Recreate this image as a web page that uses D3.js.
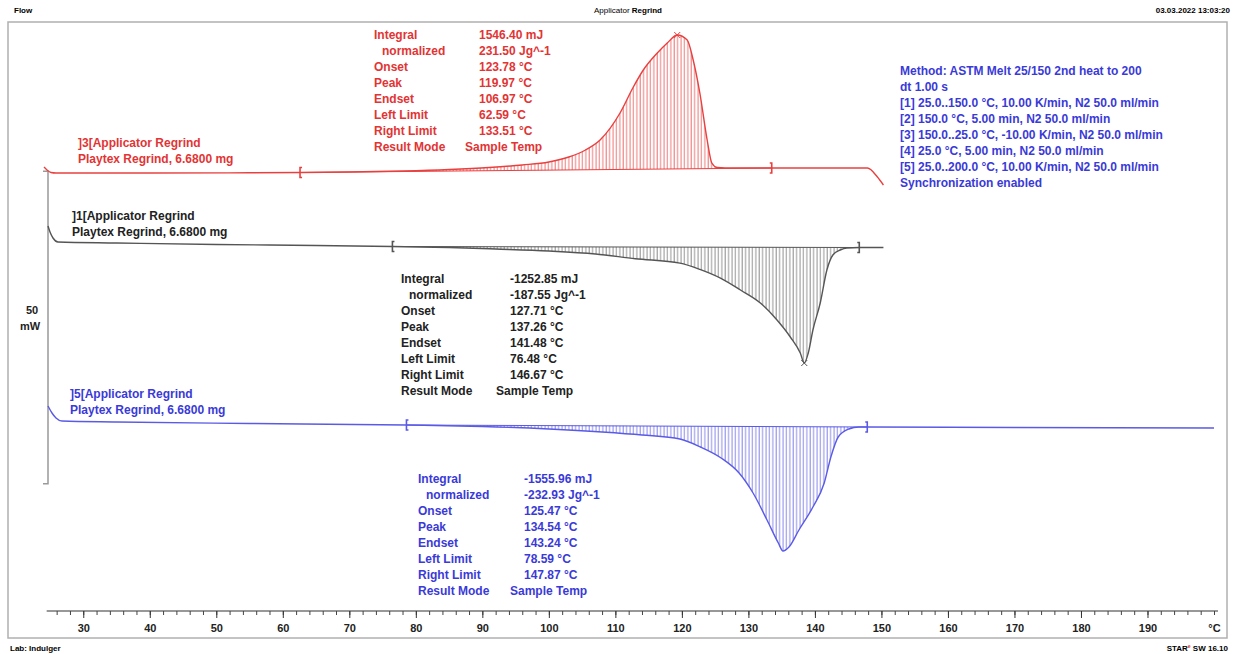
<!DOCTYPE html>
<html>
<head>
<meta charset="utf-8">
<script src="https://cdn.jsdelivr.net/npm/d3@7"></script>
<style>
  body { margin: 0; background: #fff; }
  text { font-family: "Liberation Sans", Arial, sans-serif; }
</style>
</head>
<body>
<div id="dsc_viz"></div>
<script>
// DSC curves, temperature (°C) vs heat flow (mW, curves shifted for display)
var redTemp = [24.1, 24.55, 25.15, 25.9, 40, 55, 62.59, 70, 78, 85, 91, 96, 100, 103, 105.5, 107.7, 110.7, 112.7, 114.2, 116.3, 117.8, 119.3, 120.8, 121.7, 122.7, 123.8, 124.5, 125.3, 126.5, 133.51, 147.9, 149.4, 150.3];
var redFlow = [75.68, 75.2, 74.8, 74.72, 74.72, 74.75, 74.8, 74.88, 75.04, 75.28, 75.6, 76.0, 76.48, 77.28, 78.4, 80.0, 84.32, 88.48, 91.2, 93.92, 95.52, 96.8, 96.0, 92.8, 87.52, 80.0, 76.32, 75.6, 75.52, 75.52, 75.52, 74.08, 72.8];

var blackTemp = [24.7, 25.0, 25.45, 26.2, 35, 50, 65, 76.48, 85, 92, 100, 107, 113, 119.7, 122.7, 125.8, 128.8, 131.8, 134.3, 136.3, 137.8, 138.4, 139.0, 139.7, 140.8, 141.8, 142.7, 143.8, 144.8, 146.67, 150.3];
var blackFlow = [66.24, 65.28, 64.32, 63.68, 63.52, 63.28, 63.12, 62.96, 62.8, 62.56, 62.24, 61.76, 61.0, 60.3, 59.3, 57.9, 56.0, 53.92, 51.2, 48.48, 45.92, 44.32, 45.92, 49.6, 53.92, 59.2, 61.6, 62.4, 62.72, 62.8, 62.8];

var blueTemp = [24.7, 25.3, 25.9, 26.8, 35, 55, 78.59, 90, 100, 108, 114, 119.7, 122.8, 125.9, 128.6, 130.7, 132.8, 134.5, 135.2, 136.1, 137.6, 139.7, 141.4, 142.4, 143.5, 145.1, 146.6, 147.87, 170, 200];
var blueFlow = [37.44, 36.32, 35.52, 35.04, 34.88, 34.64, 34.4, 34.16, 33.76, 33.28, 32.8, 32.16, 30.88, 29.12, 26.72, 23.52, 19.2, 15.52, 14.24, 14.88, 17.6, 21.28, 25.12, 29.28, 32.48, 33.76, 34.08, 34.08, 34.0, 33.92];

// integration limits and peak temperatures (as drawn)
var redLimits = [62.59, 133.51];
var blackLimits = [76.48, 146.67];
var blueLimits = [78.59, 147.87];
var redPeak = 119.3, blackPeak = 138.4;

// tick values
var majorTicks = [30, 40, 50, 60, 70, 80, 90, 100, 110, 120, 130, 140, 150, 160, 170, 180, 190, 200];
var minorTicks = d3.range(26, 201, 2);

// evaluation texts
var resultLabels = ["Integral", "normalized", "Onset", "Peak", "Endset", "Left Limit", "Right Limit", "Result Mode"];
var redResults = ["1546.40 mJ", "231.50 Jg^-1", "123.78 °C", "119.97 °C", "106.97 °C", "62.59 °C", "133.51 °C", "Sample Temp"];
var blackResults = ["-1252.85 mJ", "-187.55 Jg^-1", "127.71 °C", "137.26 °C", "141.48 °C", "76.48 °C", "146.67 °C", "Sample Temp"];
var blueResults = ["-1555.96 mJ", "-232.93 Jg^-1", "125.47 °C", "134.54 °C", "143.24 °C", "78.59 °C", "147.87 °C", "Sample Temp"];
var methodLines = ["Method: ASTM Melt 25/150 2nd heat to 200", "dt 1.00 s",
  "[1] 25.0..150.0 °C, 10.00 K/min, N2 50.0 ml/min",
  "[2] 150.0 °C, 5.00 min, N2 50.0 ml/min",
  "[3] 150.0..25.0 °C, -10.00 K/min, N2 50.0 ml/min",
  "[4] 25.0 °C, 5.00 min, N2 50.0 ml/min",
  "[5] 25.0..200.0 °C, 10.00 K/min, N2 50.0 ml/min",
  "Synchronization enabled"];
var curveNames = ["]3[Applicator Regrind", "]1[Applicator Regrind", "]5[Applicator Regrind"];
var sampleName = "Playtex Regrind, 6.6800 mg";

var red = "#e8403f", redText = "#e23434";
var black = "#555", blackText = "#222";
var blue = "#5a5ae6", blueText = "#3a3ad8";

var width = 1235, height = 654;

var svg = d3.select("#dsc_viz")
  .append("svg")
    .attr("width", width)
    .attr("height", height);

svg.append("rect").attr("width", width).attr("height", height).attr("fill", "#fff");

// frame
svg.append("rect")
  .attr("x", 8).attr("y", 22)
  .attr("width", 1219).attr("height", 616)
  .attr("fill", "none")
  .attr("stroke", "#b0b0b0")
  .attr("stroke-width", 1.5);

// header / footer
svg.append("text").attr("x", 14).attr("y", 13).style("font-size", "8px").style("font-weight", "bold").text("Flow");
var title = svg.append("text").attr("x", 628).attr("y", 13).attr("text-anchor", "middle").style("font-size", "8px");
title.append("tspan").text("Applicator ");
title.append("tspan").style("font-weight", "bold").text("Regrind");
svg.append("text").attr("x", 1230).attr("y", 13).attr("text-anchor", "end").style("font-size", "8px").style("font-weight", "bold").text("03.03.2022 13:03:20");
svg.append("text").attr("x", 10).attr("y", 651).style("font-size", "8px").style("font-weight", "bold").text("Lab: Indulger");
var star = svg.append("text").attr("x", 1228).attr("y", 651).attr("text-anchor", "end").style("font-size", "8px").style("font-weight", "bold");
star.append("tspan").text("STAR");
star.append("tspan").attr("dy", -3).style("font-size", "5px").attr("fill", "#c33").text("e");
star.append("tspan").attr("dy", 3).text(" SW 16.10");

// scales
var x = d3.scaleLinear().domain([25, 200]).range([50, 1214]);
var y = d3.scaleLinear().domain([0, 100]).range([640, 15]);

// x axis
var axisY = 611;
svg.append("line")
  .attr("x1", x(24.5)).attr("x2", x(200.6))
  .attr("y1", axisY).attr("y2", axisY)
  .attr("stroke", "#333").attr("stroke-width", 1.2);

svg.append("g")
  .attr("transform", "translate(0," + axisY + ")")
  .call(d3.axisBottom(x).tickValues(minorTicks).tickSize(4).tickFormat(""))
  .call(function(g) { g.select(".domain").remove(); })
  .selectAll("line").attr("stroke", "#444");

var xAxis = svg.append("g")
  .attr("transform", "translate(0," + axisY + ")")
  .call(d3.axisBottom(x).tickValues(majorTicks).tickSize(7).tickPadding(6)
    .tickFormat(function(d) { return d === 200 ? "°C" : d; }));
xAxis.select(".domain").remove();
xAxis.selectAll("line").attr("stroke", "#333");
xAxis.selectAll("text")
  .style("font-family", "'Liberation Sans', Arial, sans-serif")
  .style("font-size", "11px")
  .style("font-weight", "bold")
  .attr("fill", "#222");
xAxis.selectAll(".tick").filter(function(d) { return d === 200; }).select("line").remove();

// 50 mW scale bar
var barTop = y(75), barBottom = y(25);
svg.append("path")
  .attr("d", "M43," + barTop + "H48V" + barBottom + "H43")
  .attr("fill", "none").attr("stroke", "#999").attr("stroke-width", 1.5);
svg.append("text").attr("x", 32).attr("y", 314).attr("text-anchor", "middle").style("font-size", "11px").style("font-weight", "bold").attr("fill", "#222").text("50");
svg.append("text").attr("x", 30).attr("y", 330).attr("text-anchor", "middle").style("font-size", "11px").style("font-weight", "bold").attr("fill", "#222").text("mW");

// hatch patterns
var defs = svg.append("defs");
function hatch(id, color) {
  var p = defs.append("pattern")
    .attr("id", id)
    .attr("patternUnits", "userSpaceOnUse")
    .attr("width", 3.4).attr("height", 10);
  p.append("line")
    .attr("x1", 1).attr("x2", 1).attr("y1", 0).attr("y2", 10)
    .attr("stroke", color).attr("stroke-width", 0.9).attr("opacity", 0.8);
}
hatch("hatchRed", red);
hatch("hatchBlack", "#666");
hatch("hatchBlue", blue);

var line = d3.line()
  .x(function(d) { return x(d[0]); })
  .y(function(d) { return y(d[1]); })
  .curve(d3.curveMonotoneX);

function drawCurve(temps, flows, limits, color, patternId, peakT) {
  var pts = temps.map(function(t, i) { return [t, flows[i]]; });
  var left = pts.find(function(d) { return d[0] === limits[0]; });
  var right = pts.find(function(d) { return d[0] === limits[1]; });
  var base = d3.scaleLinear().domain([left[0], right[0]]).range([left[1], right[1]]);
  var inside = pts.filter(function(d) { return d[0] >= limits[0] && d[0] <= limits[1]; });

  // integrated area
  svg.append("path")
    .datum(inside)
    .attr("fill", "url(#" + patternId + ")")
    .attr("d", d3.area()
      .x(function(d) { return x(d[0]); })
      .y0(function(d) { return y(base(d[0])); })
      .y1(function(d) { return y(d[1]); })
      .curve(d3.curveMonotoneX));

  // baseline
  svg.append("line")
    .attr("x1", x(left[0])).attr("y1", y(left[1]))
    .attr("x2", x(right[0])).attr("y2", y(right[1]))
    .attr("stroke", color).attr("stroke-width", 1);

  // curve
  svg.append("path")
    .datum(pts)
    .attr("fill", "none")
    .attr("stroke", color)
    .attr("stroke-width", 1.4)
    .attr("d", line);

  // limit markers
  [left, right].forEach(function(d, i) {
    var cx = x(d[0]), cy = y(d[1]), s = i === 0 ? 2 : -2;
    svg.append("path")
      .attr("d", "M" + (cx + s) + "," + (cy - 5) + "H" + cx + "V" + (cy + 5) + "H" + (cx + s))
      .attr("fill", "none").attr("stroke", color).attr("stroke-width", 1.6);
  });

  // peak marker
  if (peakT !== undefined) {
    var pk = pts.find(function(d) { return d[0] === peakT; });
    var px = x(pk[0]), py = y(pk[1]);
    svg.append("path")
      .attr("d", "M" + (px - 3) + "," + (py - 3) + "L" + (px + 3) + "," + (py + 3) + "M" + (px + 3) + "," + (py - 3) + "L" + (px - 3) + "," + (py + 3))
      .attr("stroke", color).attr("stroke-width", 1);
  }
}

drawCurve(redTemp, redFlow, redLimits, red, "hatchRed", redPeak);
drawCurve(blackTemp, blackFlow, blackLimits, black, "hatchBlack", blackPeak);
drawCurve(blueTemp, blueFlow, blueLimits, blue, "hatchBlue");

// text blocks
function textBlock(lines, x0, y0, color) {
  svg.append("g").selectAll("text")
    .data(lines)
    .enter()
    .append("text")
      .attr("x", x0)
      .attr("y", function(d, i) { return y0 + i * 16; })
      .attr("fill", color)
      .style("font-size", "12px")
      .style("font-weight", "bold")
      .text(function(d) { return d; });
}

function results(values, lx, vx, y0, color) {
  svg.append("g").selectAll("text")
    .data(resultLabels)
    .enter()
    .append("text")
      .attr("x", function(d, i) { return i === 1 ? lx + 8 : lx; })
      .attr("y", function(d, i) { return y0 + i * 16; })
      .attr("fill", color)
      .style("font-size", "12px")
      .style("font-weight", "bold")
      .text(function(d) { return d; });
  svg.append("g").selectAll("text")
    .data(values)
    .enter()
    .append("text")
      .attr("x", function(d, i) { return i === 7 ? vx - 14 : vx; })
      .attr("y", function(d, i) { return y0 + i * 16; })
      .attr("fill", color)
      .style("font-size", "12px")
      .style("font-weight", "bold")
      .text(function(d) { return d; });
}

results(redResults, 374, 479, 39, redText);
results(blackResults, 401, 510, 283, blackText);
results(blueResults, 418, 524, 483, blueText);

textBlock(methodLines, 900, 75, blueText);

textBlock([curveNames[0], sampleName], 78, 147, redText);
textBlock([curveNames[1], sampleName], 72, 220, blackText);
textBlock([curveNames[2], sampleName], 70, 398, blueText);
</script>
</body>
</html>
